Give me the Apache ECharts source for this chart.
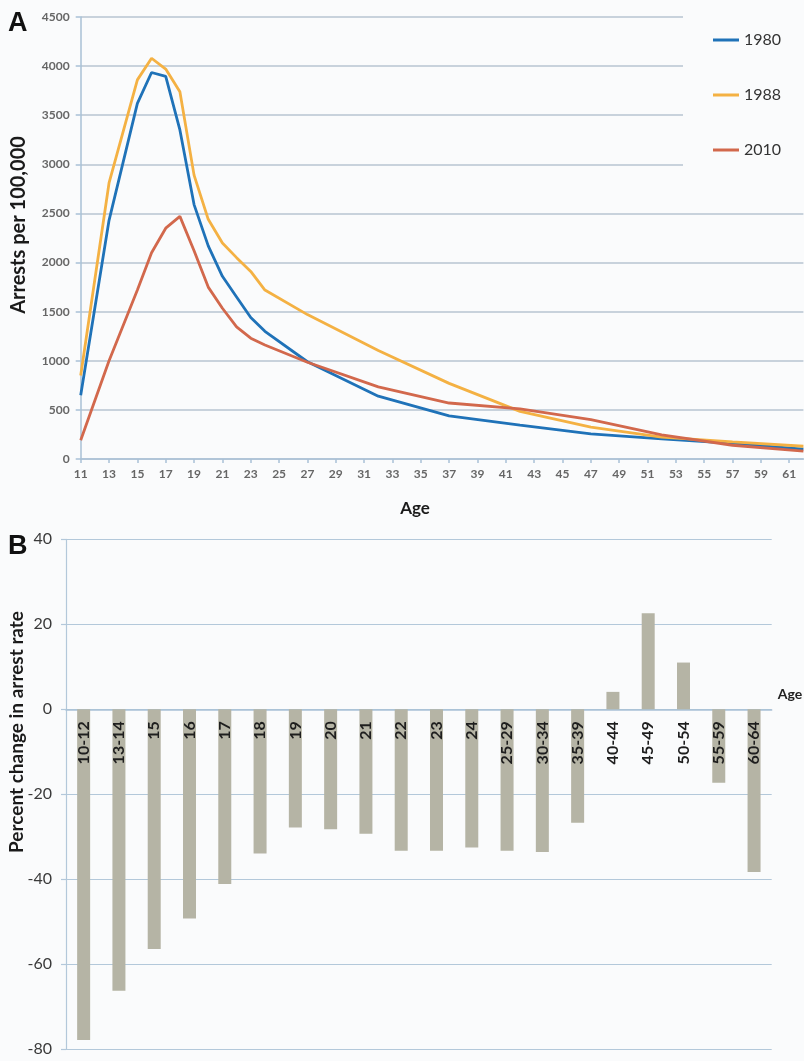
<!DOCTYPE html>
<html><head><meta charset="utf-8">
<script src="https://cdn.jsdelivr.net/npm/echarts@6.0.0/dist/echarts.min.js"></script>
<style>html,body{margin:0;padding:0;background:#fafbfc}#c{width:804px;height:1061px}</style>
</head><body><div id="c"></div>
<script>
// Panel A: category ticks (single years of age)
const ageTicks = ['11','12','13','14','15','16','17','18','19','20','21','22','23','24','25','26','27','28','29','30','31','32','33','34','35','36','37','38','39','40','41','42','43','44','45','46','47','48','49','50','51','52','53','54','55','56','57','58','59','60','61','62'];
// ages at which the rates are plotted
const lineAges = ['11','13','15','16','17','18','19','20','21','22','23','24','27','32','37','42','47','52','57','62'];
const rate1980 = [650, 2430, 3620, 3935, 3895, 3350, 2590, 2170, 1860, 1650, 1440, 1300, 990, 640, 440, 345, 255, 205, 160, 100];
const rate1988 = [850, 2810, 3860, 4080, 3970, 3740, 2890, 2440, 2200, 2050, 1910, 1720, 1470, 1105, 770, 485, 325, 222, 175, 130];
const rate2010 = [190, 1000, 1720, 2100, 2350, 2470, 2120, 1750, 1535, 1345, 1230, 1160, 985, 735, 570, 510, 400, 245, 140, 80];
const seriesNames = ['1980', '1988', '2010'];

// Panel B
const ageGroups = ['10-12','13-14','15','16','17','18','19','20','21','22','23','24','25-29','30-34','35-39','40-44','45-49','50-54','55-59','60-64'];
const pctChange = [-77.8, -66.2, -56.4, -49.2, -41.1, -33.9, -27.8, -28.2, -29.3, -33.3, -33.3, -32.5, -33.3, -33.6, -26.7, 4.1, 22.6, 11.0, -17.3, -38.3];

const BG = '#fafbfc';
const FONT = 'Lato';
const AX = '#a9c1d6';
const colors = ['#1f72b8', '#f4b143', '#d2684c'];
const pair = (vals) => lineAges.map((a, i) => [a, vals[i]]);

const chart = echarts.init(document.getElementById('c'), null, {renderer: 'canvas'});
chart.setOption({
  backgroundColor: BG,
  animation: false,
  textStyle: {fontFamily: FONT},
  grid: [
    {left: 80.7, top: 17, width: 722.7, height: 442, outerBoundsMode: 'none', containLabel: false},
    {left: 66, top: 539.3, width: 705.7, height: 510, outerBoundsMode: 'none', containLabel: false},
    {left: 66, top: 539.3, width: 705.7, height: 170, outerBoundsMode: 'none', containLabel: false}
  ],
  legend: {
    data: seriesNames, orient: 'vertical', left: 708, top: 27,
    icon: 'rect', itemWidth: 26, itemHeight: 3, itemGap: 39,
    textStyle: {fontSize: 16, color: '#333', fontFamily: FONT},
    z: 10
  },
  xAxis: [
    {
      type: 'category', gridIndex: 0, data: ageTicks, boundaryGap: false,
      axisLine: {lineStyle: {color: AX, width: 1.5}},
      axisTick: {interval: 1, length: 4, lineStyle: {color: AX, width: 1.5}},
      axisLabel: {interval: 1, margin: 9, fontSize: 12, fontWeight: 'bold', color: '#666', fontFamily: FONT},
      splitLine: {show: false}
    },
    {
      type: 'category', gridIndex: 1, data: ageGroups,
      axisLine: {onZero: true, lineStyle: {color: AX, width: 1.5}},
      axisTick: {length: 6, lineStyle: {color: AX, width: 1.5}},
      axisLabel: {show: false},
      name: 'Age', nameLocation: 'end', nameGap: 6,
      nameTextStyle: {fontSize: 14, fontWeight: 'bold', color: '#222', fontFamily: FONT, verticalAlign: 'bottom', padding: [0, 0, 8, 0]}
    },
    {
      type: 'category', gridIndex: 2, data: ageGroups, position: 'bottom', z: 6,
      axisLine: {show: false, onZero: false}, axisTick: {show: false},
      axisLabel: {show: true, interval: 0, rotate: 90, margin: 12, hideOverlap: false, fontSize: 16, fontWeight: 'bold', color: '#1e1e1e', fontFamily: FONT}
    }
  ],
  yAxis: [
    {
      type: 'value', gridIndex: 0, min: 0, max: 4500, interval: 500,
      axisLine: {show: true, lineStyle: {color: AX, width: 1.5}},
      axisTick: {show: true, length: 5, lineStyle: {color: AX, width: 1.5}},
      axisLabel: {margin: 11, fontSize: 12, fontWeight: 'bold', color: '#666', fontFamily: FONT, formatter: (v) => String(v)},
      splitLine: {lineStyle: {color: '#b7c5d2', width: 1.5}}
    },
    {
      type: 'value', gridIndex: 1, min: -80, max: 40, interval: 20,
      axisLine: {show: true, lineStyle: {color: '#b3c8da', width: 1.2}},
      axisTick: {show: true, length: 5, lineStyle: {color: '#b3c8da', width: 1.2}},
      axisLabel: {margin: 14, fontSize: 16, color: '#3a3a3a', fontFamily: FONT, formatter: (v) => String(v)},
      splitLine: {lineStyle: {color: '#b3c8da', width: 1.2}}
    },
    {type: 'value', gridIndex: 2, min: 0, max: 1, show: false}
  ],
  series: [
    {name: seriesNames[0], type: 'line', xAxisIndex: 0, yAxisIndex: 0, data: pair(rate1980), symbol: 'none', lineStyle: {width: 2.8, color: colors[0]}, itemStyle: {color: colors[0]}},
    {name: seriesNames[1], type: 'line', xAxisIndex: 0, yAxisIndex: 0, data: pair(rate1988), symbol: 'none', lineStyle: {width: 2.8, color: colors[1]}, itemStyle: {color: colors[1]}},
    {name: seriesNames[2], type: 'line', xAxisIndex: 0, yAxisIndex: 0, data: pair(rate2010), symbol: 'none', lineStyle: {width: 2.8, color: colors[2]}, itemStyle: {color: colors[2]}},
    {name: 'change', type: 'bar', xAxisIndex: 1, yAxisIndex: 1, data: pctChange, barWidth: 13, z: 2, itemStyle: {color: '#b5b4a5'}}
  ],
  graphic: [
    {type: 'rect', left: 683, top: 0, z: 3, shape: {width: 125, height: 185}, style: {fill: BG}},
    {type: 'text', left: 8, top: 10, z: 10, style: {text: 'A', font: 'bold 27px "Liberation Sans"', fill: '#111'}},
    {type: 'text', left: 8, top: 533, z: 10, style: {text: 'B', font: 'bold 27px "Liberation Sans"', fill: '#111'}},
    {type: 'text', x: 18.5, y: 225, rotation: Math.PI / 2, z: 10,
      style: {text: 'Arrests per 100,000', align: 'center', verticalAlign: 'middle', font: 'bold 20px Lato', fill: '#1a1a1a'}},
    {type: 'text', x: 415, y: 509, z: 10,
      style: {text: 'Age', align: 'center', verticalAlign: 'middle', font: 'bold 17px Lato', fill: '#1a1a1a'}},
    {type: 'text', x: 17, y: 732, rotation: Math.PI / 2, z: 10,
      style: {text: 'Percent change in arrest rate', align: 'center', verticalAlign: 'middle', font: 'bold 19px Lato', fill: '#1a1a1a'}}
  ]
});
</script>
</body></html>
